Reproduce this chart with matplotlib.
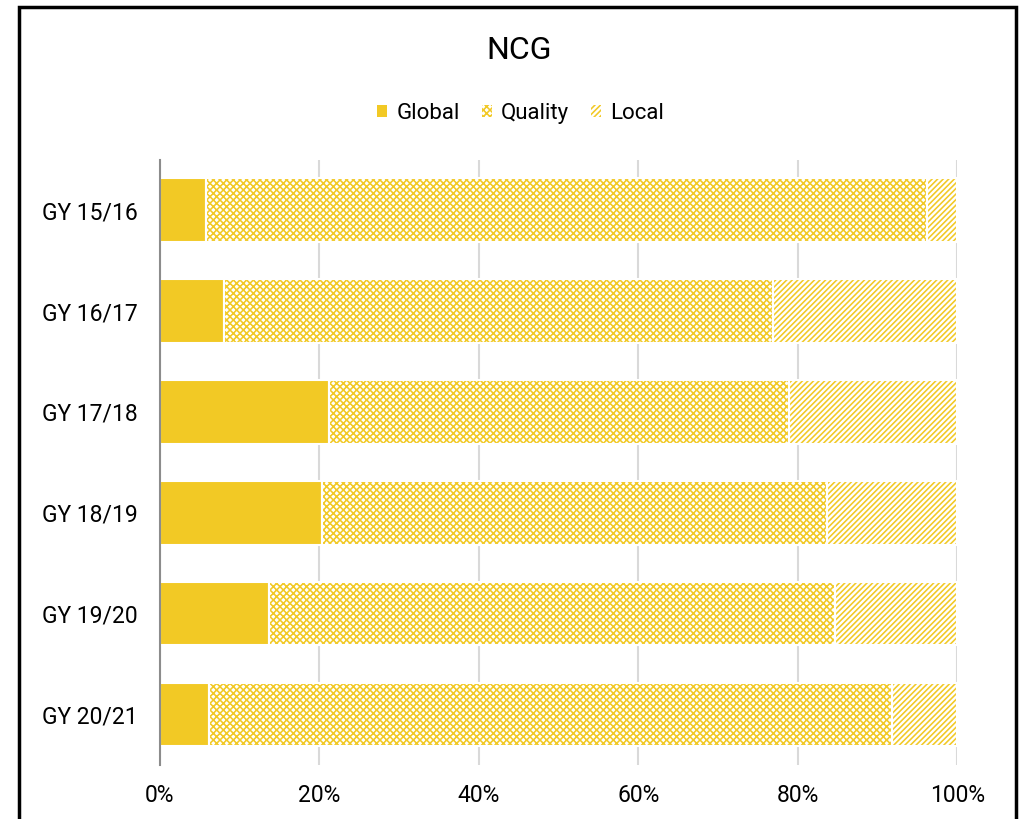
import matplotlib.pyplot as plt
from matplotlib.patches import Patch, Rectangle

plt.rcParams['font.family'] = ['Roboto', 'DejaVu Sans']

# data (shares in %)
years = ['GY 15/16', 'GY 16/17', 'GY 17/18', 'GY 18/19', 'GY 19/20', 'GY 20/21']
glob = [5.8, 8.0, 21.2, 20.3, 13.7, 6.1]
quality = [90.4, 68.9, 57.7, 63.3, 71.0, 85.7]
local = [3.8, 23.1, 21.1, 16.4, 15.3, 8.2]

gold = '#F2C925'
fig = plt.figure(figsize=(10.25, 8.19), dpi=100)
ax = fig.add_axes([0.156, 0.066, 0.778, 0.739])

y = list(range(len(years)))
h = 0.63
left_q = [g for g in glob]
left_l = [g + q for g, q in zip(glob, quality)]

plt.rcParams['hatch.linewidth'] = 1.15
ax.barh(y, glob, height=h, color=gold, edgecolor='white', linewidth=1.5, zorder=3)
ax.barh(y, quality, left=left_q, height=h, color='white', edgecolor=gold,
        hatch='xxxxx', linewidth=0, zorder=3)
ax.barh(y, quality, left=left_q, height=h, color='none', edgecolor='white',
        linewidth=1.5, zorder=4)
ax.barh(y, local, left=left_l, height=h, color='white', edgecolor=gold,
        hatch='//////', linewidth=0, zorder=3)
ax.barh(y, local, left=left_l, height=h, color='none', edgecolor='white',
        linewidth=1.5, zorder=4)

ax.set_xlim(0, 100)
ax.set_ylim(5.5, -0.5)
ax.set_yticks(y)
ax.set_yticklabels(years, fontsize=16.5)
ax.set_xticks([0, 20, 40, 60, 80, 100])
ax.set_xticklabels(['0%', '20%', '40%', '60%', '80%', '100%'], fontsize=16.5)
ax.tick_params(length=0)
ax.tick_params(axis='y', pad=16)
ax.tick_params(axis='x', pad=14)
ax.grid(axis='x', color='#d9d9d9', linewidth=1.5, zorder=0)
for s in ['top', 'right', 'bottom']:
    ax.spines[s].set_visible(False)
ax.spines['left'].set_color('#8c8c8c')
ax.spines['left'].set_linewidth(1.5)
ax.spines['left'].set_zorder(5)

fig.text(0.506, 0.938, 'NCG', ha='center', va='center', fontsize=23)

handles = [Patch(facecolor=gold, edgecolor='none'),
           Patch(facecolor='white', edgecolor=gold, hatch='xxxxx', linewidth=0),
           Patch(facecolor='white', edgecolor=gold, hatch='//////', linewidth=0)]
fig.legend(handles, ['Global', 'Quality', 'Local'], loc='center',
           bbox_to_anchor=(0.508, 0.862), ncol=3, frameon=False, fontsize=16,
           handlelength=0.45, handleheight=0.45, handletextpad=0.4, columnspacing=1.0)

# outer border
fig.patches.append(Rectangle((0.019, -0.05), 0.972, 1.042, transform=fig.transFigure,
                             fill=False, edgecolor='black', linewidth=2.5))

fig.savefig('out.png', dpi=100)
